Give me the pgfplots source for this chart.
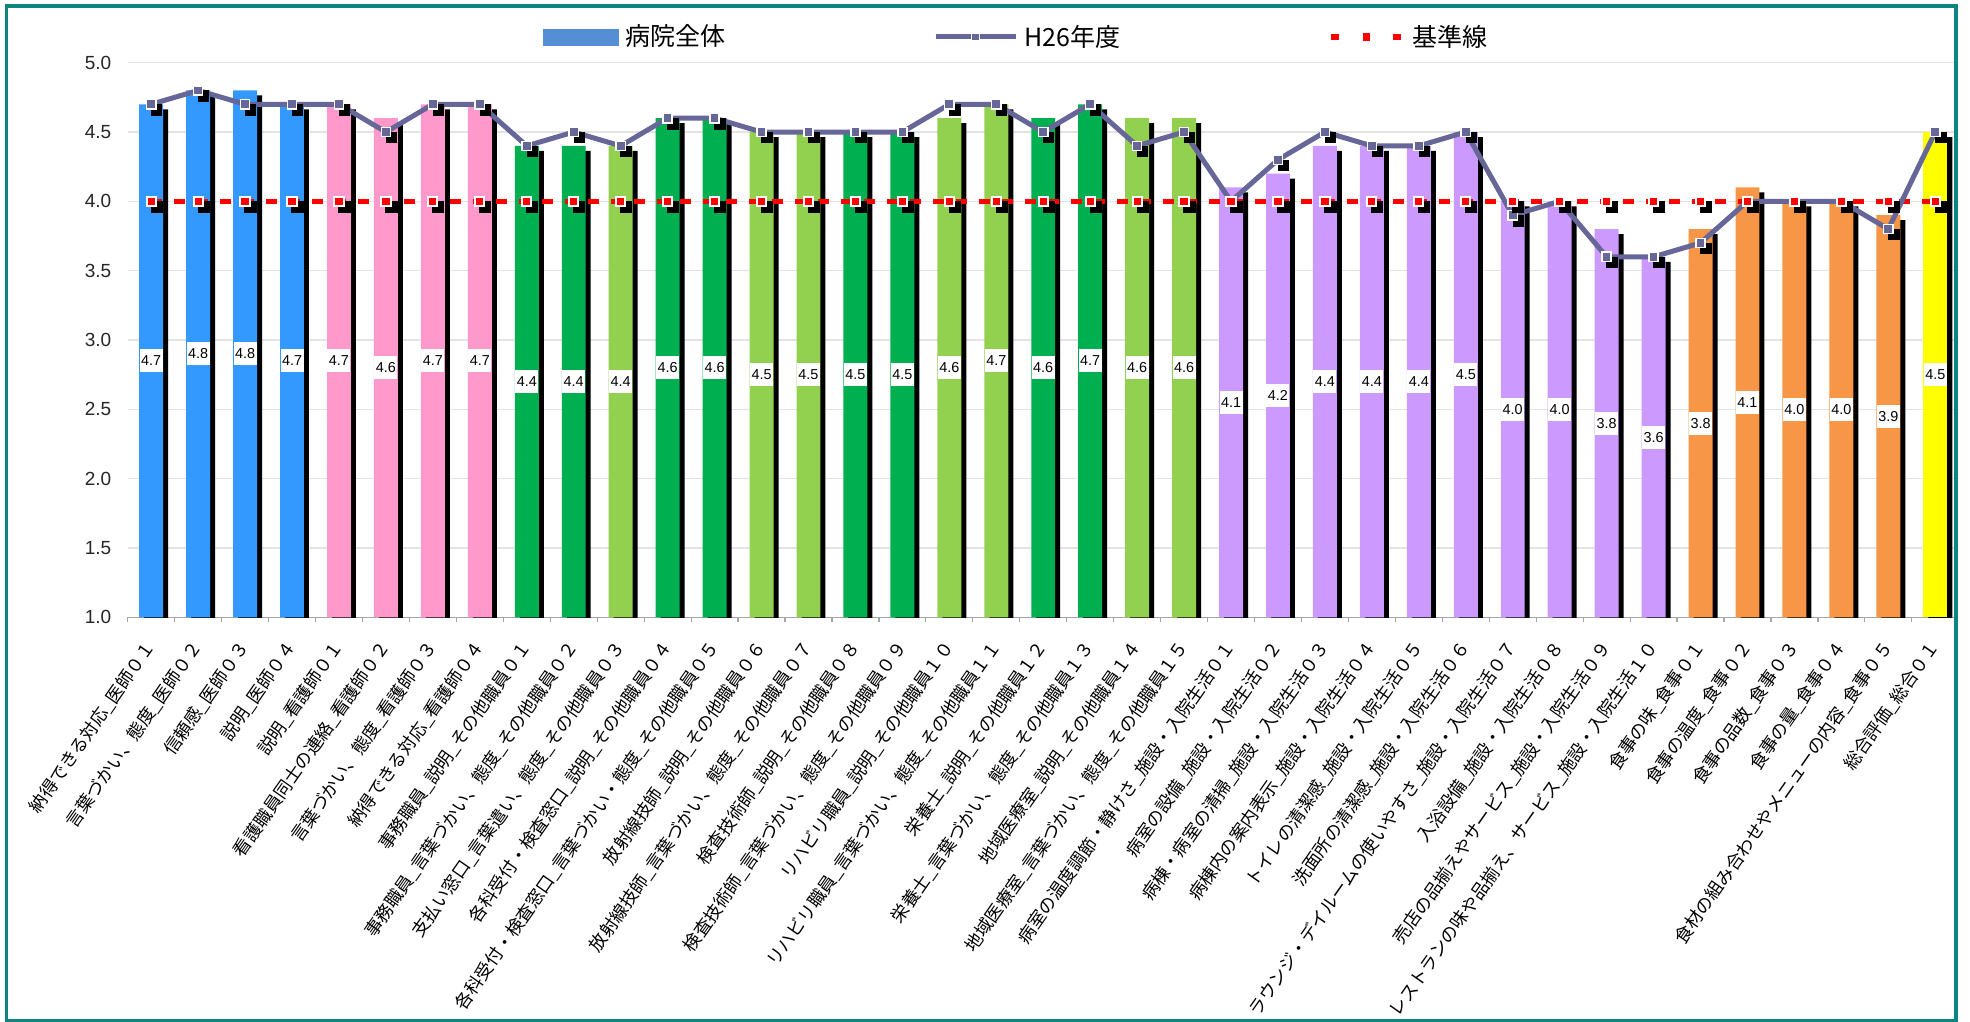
\documentclass[border=0pt]{standalone}
\usepackage{fontspec}
\setmainfont{Liberation Sans}
\newfontfamily\jp{Noto Sans CJK JP}
\usepackage{pgfplots}
\usepackage{pgfplotstable}
\pgfplotsset{compat=1.18}

\definecolor{cblue}{HTML}{3399FF}
\definecolor{legblue}{HTML}{558ED5}
\definecolor{cpink}{HTML}{FF99CC}
\definecolor{cdkgreen}{HTML}{00B050}
\definecolor{cltgreen}{HTML}{92D050}
\definecolor{cpurple}{HTML}{CC99FF}
\definecolor{corange}{HTML}{F79646}
\definecolor{cyellow}{HTML}{FFFF00}
\definecolor{h26}{HTML}{666699}
\definecolor{gridgray}{HTML}{E3E3E3}
\definecolor{axisgray}{HTML}{A6A6A6}
\definecolor{frame}{HTML}{0F8580}

% x = item, v = hospital overall, h = H26, b = baseline, g = colour group
\pgfplotstableread{
x v h b g
1 4.7 4.7 4.0 1
2 4.8 4.8 4.0 1
3 4.8 4.7 4.0 1
4 4.7 4.7 4.0 1
5 4.7 4.7 4.0 2
6 4.6 4.5 4.0 2
7 4.7 4.7 4.0 2
8 4.7 4.7 4.0 2
9 4.4 4.4 4.0 3
10 4.4 4.5 4.0 3
11 4.4 4.4 4.0 4
12 4.6 4.6 4.0 3
13 4.6 4.6 4.0 3
14 4.5 4.5 4.0 4
15 4.5 4.5 4.0 4
16 4.5 4.5 4.0 3
17 4.5 4.5 4.0 3
18 4.6 4.7 4.0 4
19 4.7 4.7 4.0 4
20 4.6 4.5 4.0 3
21 4.7 4.7 4.0 3
22 4.6 4.4 4.0 4
23 4.6 4.5 4.0 4
24 4.1 4.0 4.0 5
25 4.2 4.3 4.0 5
26 4.4 4.5 4.0 5
27 4.4 4.4 4.0 5
28 4.4 4.4 4.0 5
29 4.5 4.5 4.0 5
30 4.0 3.9 4.0 5
31 4.0 4.0 4.0 5
32 3.8 3.6 4.0 5
33 3.6 3.6 4.0 5
34 3.8 3.7 4.0 6
35 4.1 4.0 4.0 6
36 4.0 4.0 4.0 6
37 4.0 4.0 4.0 6
38 3.9 3.8 4.0 6
39 4.5 4.5 4.0 7
}\data

\pgfplotsset{
  grpbar/.style={ybar, bar width=0.51, bar shift=0pt, draw=none, forget plot,
    fill=#1},
}

\begin{document}
\begin{tikzpicture}
\begin{axis}[
  scale only axis, width=913.65bp, height=277.3bp,
  xmin=0.5, xmax=39.42, ymin=1, ymax=5,
  axis x line*=bottom, axis y line*=left,
  x axis line style={draw=axisgray, line width=0.75bp, -},
  y axis line style={draw=none},
  ytick={1,1.5,2,2.5,3,3.5,4,4.5,5},
  ymajorgrids, grid style={draw=gridgray, line width=0.75bp},
  xtick={1,...,39},
  minor xtick={0.5,1.5,...,38.5},
  tick align=outside,
  major tick length=0pt, minor tick length=2.5bp,
  tick style={draw=axisgray, line width=0.6bp},
  yticklabel style={font=\fontsize{9.5bp}{10bp}\selectfont, text=black!85, inner sep=0pt, xshift=-8bp},
  /pgf/number format/.cd, fixed, fixed zerofill, precision=1, assume math mode=true,
  /pgfplots/.cd,
  xticklabel style={font=\jp\fontsize{8.85bp}{9bp}\selectfont, inner sep=0pt, anchor=east, yshift=-13bp, rotate=55},
  xticklabels={
    {納得できる対応\_医師０１},
    {言葉づかい、態度\_医師０２},
    {信頼感\_医師０３},
    {説明\_医師０４},
    {説明\_看護師０１},
    {看護職員同士の連絡\_看護師０２},
    {言葉づかい、態度\_看護師０３},
    {納得できる対応\_看護師０４},
    {事務職員\_説明\_その他職員０１},
    {事務職員\_言葉づかい、態度\_その他職員０２},
    {支払い窓口\_言葉遣い、態度\_その他職員０３},
    {各科受付・検査窓口\_説明\_その他職員０４},
    {各科受付・検査窓口\_言葉づかい・態度\_その他職員０５},
    {放射線技師\_説明\_その他職員０６},
    {放射線技師\_言葉づかい、態度\_その他職員０７},
    {検査技術師\_説明\_その他職員０８},
    {検査技術師\_言葉づかい、態度\_その他職員０９},
    {リハビリ職員\_説明\_その他職員１０},
    {リハビリ職員\_言葉づかい、態度\_その他職員１１},
    {栄養士\_説明\_その他職員１２},
    {栄養士\_言葉づかい、態度\_その他職員１３},
    {地域医療室\_説明\_その他職員１４},
    {地域医療室\_言葉づかい、態度\_その他職員１５},
    {病室の温度調節・静けさ\_施設・入院生活０１},
    {病室の設備\_施設・入院生活０２},
    {病棟・病室の清掃\_施設・入院生活０３},
    {病棟内の案内表示\_施設・入院生活０４},
    {トイレの清潔感\_施設・入院生活０５},
    {洗面所の清潔感\_施設・入院生活０６},
    {ラウンジ・デイルームの使いやすさ\_施設・入院生活０７},
    {入浴設備\_施設・入院生活０８},
    {売店の品揃えやサービス\_施設・入院生活０９},
    {レストランの味や品揃え、サービス\_施設・入院生活１０},
    {食事の味\_食事０１},
    {食事の温度\_食事０２},
    {食事の品数\_食事０３},
    {食事の量\_食事０４},
    {食材の組み合わせやメニューの内容\_食事０５},
    {総合評価\_総合０１}},
  legend columns=3,
  legend style={at={(0.2273,1.0464)}, anchor=west, draw=none, fill=none,
    inner sep=0pt, font=\jp\fontsize{12.5bp}{13bp}\selectfont,
    nodes={inner sep=0pt, anchor=west},
    /tikz/every odd column/.append style={column sep=3bp},
    /tikz/every even column/.append style={column sep=104bp}},
]
% bar shadows
\addplot[grpbar=black, xshift=2.5bp, yshift=-2.5bp] table[x=x, y=v]{\data};
% bars by colour group
\addplot[grpbar=cblue, restrict expr to domain={\thisrow{g}}{1:1}] table[x=x, y=v]{\data};
\addplot[grpbar=cpink, restrict expr to domain={\thisrow{g}}{2:2}] table[x=x, y=v]{\data};
\addplot[grpbar=cdkgreen, restrict expr to domain={\thisrow{g}}{3:3}] table[x=x, y=v]{\data};
\addplot[grpbar=cltgreen, restrict expr to domain={\thisrow{g}}{4:4}] table[x=x, y=v]{\data};
\addplot[grpbar=cpurple, restrict expr to domain={\thisrow{g}}{5:5}] table[x=x, y=v]{\data};
\addplot[grpbar=corange, restrict expr to domain={\thisrow{g}}{6:6}] table[x=x, y=v]{\data};
\addplot[grpbar=cyellow, restrict expr to domain={\thisrow{g}}{7:7}] table[x=x, y=v]{\data};
% value labels in the middle of each bar
\addplot[draw=none, forget plot, point meta=\thisrow{v},
  nodes near coords={\pgfmathprintnumber[fixed, fixed zerofill, precision=1, assume math mode=true]{\pgfplotspointmeta}},
  every node near coord/.append style={anchor=center, fill=white, text=black, inner sep=0pt,
    minimum width=11.5bp, minimum height=11.5bp, font=\fontsize{7.2bp}{8bp}\selectfont}]
  table[x=x, y expr={(\thisrow{v}+1)/2}]{\data};
% baseline dashes
\addplot[forget plot, red, line width=2.65bp, dash pattern=on 5.5bp off 6bp] table[x=x, y=b]{\data};
% H26 marker shadows and line
\addplot[forget plot, only marks, mark=square*, mark size=2.6bp, mark options={fill=black, draw=none},
  xshift=2.7bp, yshift=-2.8bp] table[x=x, y=h]{\data};
\addplot[forget plot, h26, line width=2.5bp, mark=square*, mark size=2.3bp,
  mark options={fill=h26, draw=white, line width=0.75bp}] table[x=x, y=h]{\data};
% baseline markers
\addplot[forget plot, only marks, mark=square*, mark size=2.8bp, mark options={fill=black, draw=none},
  xshift=2.7bp, yshift=-2.8bp] table[x=x, y=b]{\data};
\addplot[forget plot, only marks, mark=square*, mark size=2.3bp,
  mark options={fill=red, draw=white, line width=1bp}] table[x=x, y=b]{\data};

\addlegendimage{legend image code/.code={\fill[legblue] (0bp,-4bp) rectangle (37.5bp,4bp);}}
\addlegendentry{病院全体}
\addlegendimage{legend image code/.code={\draw[h26, line width=2.5bp, mark=square*, mark size=2bp,
  mark options={fill=h26, draw=white, line width=0.75bp}, mark repeat=2, mark phase=2]
  plot coordinates {(0bp,0bp) (20bp,0bp) (40bp,0bp)};}}
\addlegendentry{H26年度}
\addlegendimage{legend image code/.code={\draw[red, line width=2.65bp, dash pattern=on 4bp off 11.5bp,
  mark=square*, mark size=2.3bp, mark options={solid, fill=red, draw=white, line width=1bp},
  mark repeat=2, mark phase=2]
  plot coordinates {(0bp,0bp) (18bp,0bp) (36.5bp,0bp)};}}
\addlegendentry{基準線}
\end{axis}
\draw[frame, line width=1.75bp] (-60.7bp,-201.6bp) rectangle (914.15bp,305.75bp);
\pgfresetboundingbox
\path[use as bounding box] (-63.85bp,-202.35bp) rectangle (921.15bp,308.65bp);
\end{tikzpicture}
\end{document}
